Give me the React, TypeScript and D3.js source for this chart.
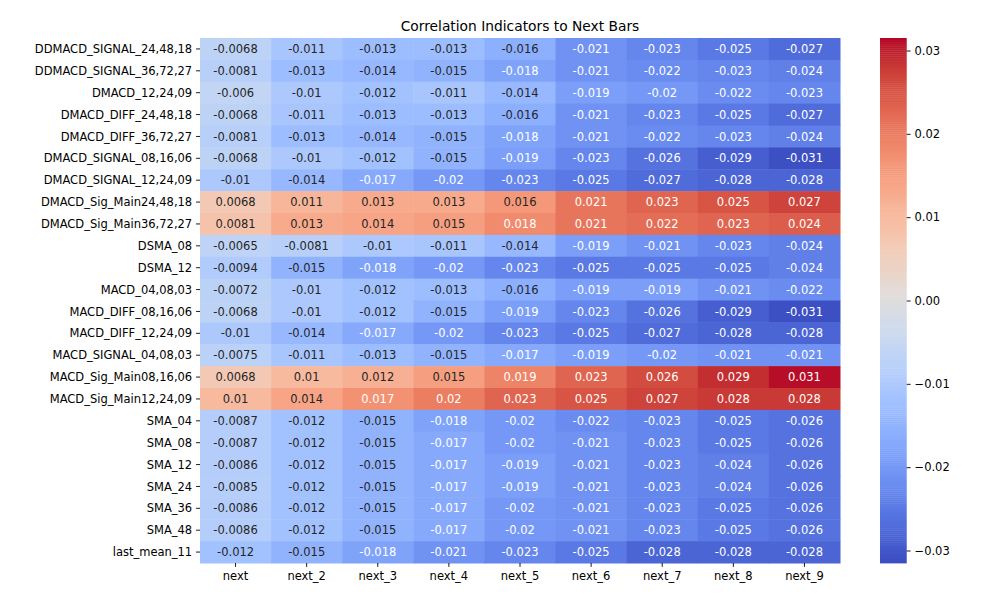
import React, { useEffect, useRef } from 'react';
import * as d3 from 'd3';

const rows = [
  'DDMACD_SIGNAL_24,48,18',
  'DDMACD_SIGNAL_36,72,27',
  'DMACD_12,24,09',
  'DMACD_DIFF_24,48,18',
  'DMACD_DIFF_36,72,27',
  'DMACD_SIGNAL_08,16,06',
  'DMACD_SIGNAL_12,24,09',
  'DMACD_Sig_Main24,48,18',
  'DMACD_Sig_Main36,72,27',
  'DSMA_08',
  'DSMA_12',
  'MACD_04,08,03',
  'MACD_DIFF_08,16,06',
  'MACD_DIFF_12,24,09',
  'MACD_SIGNAL_04,08,03',
  'MACD_Sig_Main08,16,06',
  'MACD_Sig_Main12,24,09',
  'SMA_04',
  'SMA_08',
  'SMA_12',
  'SMA_24',
  'SMA_36',
  'SMA_48',
  'last_mean_11',
];

const columns = ['next', 'next_2', 'next_3', 'next_4', 'next_5', 'next_6', 'next_7', 'next_8', 'next_9'];

// one row per indicator, one value per column
const values: number[][] = [
  [-0.0068, -0.011, -0.013, -0.013, -0.016, -0.021, -0.023, -0.025, -0.027],
  [-0.0081, -0.013, -0.014, -0.015, -0.018, -0.021, -0.022, -0.023, -0.024],
  [-0.006, -0.01, -0.012, -0.011, -0.014, -0.019, -0.02, -0.022, -0.023],
  [-0.0068, -0.011, -0.013, -0.013, -0.016, -0.021, -0.023, -0.025, -0.027],
  [-0.0081, -0.013, -0.014, -0.015, -0.018, -0.021, -0.022, -0.023, -0.024],
  [-0.0068, -0.01, -0.012, -0.015, -0.019, -0.023, -0.026, -0.029, -0.031],
  [-0.01, -0.014, -0.017, -0.02, -0.023, -0.025, -0.027, -0.028, -0.028],
  [0.0068, 0.011, 0.013, 0.013, 0.016, 0.021, 0.023, 0.025, 0.027],
  [0.0081, 0.013, 0.014, 0.015, 0.018, 0.021, 0.022, 0.023, 0.024],
  [-0.0065, -0.0081, -0.01, -0.011, -0.014, -0.019, -0.021, -0.023, -0.024],
  [-0.0094, -0.015, -0.018, -0.02, -0.023, -0.025, -0.025, -0.025, -0.024],
  [-0.0072, -0.01, -0.012, -0.013, -0.016, -0.019, -0.019, -0.021, -0.022],
  [-0.0068, -0.01, -0.012, -0.015, -0.019, -0.023, -0.026, -0.029, -0.031],
  [-0.01, -0.014, -0.017, -0.02, -0.023, -0.025, -0.027, -0.028, -0.028],
  [-0.0075, -0.011, -0.013, -0.015, -0.017, -0.019, -0.02, -0.021, -0.021],
  [0.0068, 0.01, 0.012, 0.015, 0.019, 0.023, 0.026, 0.029, 0.031],
  [0.01, 0.014, 0.017, 0.02, 0.023, 0.025, 0.027, 0.028, 0.028],
  [-0.0087, -0.012, -0.015, -0.018, -0.02, -0.022, -0.023, -0.025, -0.026],
  [-0.0087, -0.012, -0.015, -0.017, -0.02, -0.021, -0.023, -0.025, -0.026],
  [-0.0086, -0.012, -0.015, -0.017, -0.019, -0.021, -0.023, -0.024, -0.026],
  [-0.0085, -0.012, -0.015, -0.017, -0.019, -0.021, -0.023, -0.024, -0.026],
  [-0.0086, -0.012, -0.015, -0.017, -0.02, -0.021, -0.023, -0.025, -0.026],
  [-0.0086, -0.012, -0.015, -0.017, -0.02, -0.021, -0.023, -0.025, -0.026],
  [-0.012, -0.015, -0.018, -0.021, -0.023, -0.025, -0.028, -0.028, -0.028],
];

const colorbarTicks = [-0.03, -0.02, -0.01, 0, 0.01, 0.02, 0.03];
const colorRange = [-0.0315, 0.0315];

// coolwarm (Moreland) control colours, evenly spaced 0..1
const coolwarm = [
  '#3b4cc0', '#445acc', '#4d68d7', '#5775e1', '#6282ea', '#6c8ef1', '#779af7', '#82a5fb',
  '#8db0fe', '#98b9ff', '#a3c2ff', '#aec9fd', '#b8d0f9', '#c2d5f4', '#ccd9ee', '#d5dbe6',
  '#dddddd', '#e5d8d1', '#ecd3c5', '#f1ccb9', '#f5c4ad', '#f7bba0', '#f7b194', '#f7a687',
  '#f49a7b', '#f18d6f', '#ec7f63', '#e57058', '#de604d', '#d55042', '#cb3e38', '#c0282f',
  '#b40426',
];

const Heatmap: React.FC = () => {
  const svgRef = useRef<SVGSVGElement | null>(null);

  useEffect(() => {
    const svg = d3.select(svgRef.current);
    svg.selectAll('*').remove();

    const width = 1000;
    const height = 600;
    const font = 'DejaVu Sans, sans-serif';
    const fs = 11.5;
    const tickLen = 3.9;
    const pad = 3.9;

    const left = 200;
    const right = 840;
    const top = 38;
    const bottom = 563;

    svg.attr('width', width).attr('height', height);

    const x = d3.scaleBand().domain(columns).range([left, right]);
    const y = d3.scaleBand().domain(rows).range([top, bottom]);

    const norm = d3.scaleLinear().domain(colorRange).range([0, 1]).clamp(true);
    const cmap = d3
      .scaleLinear<string>()
      .domain(coolwarm.map((_, i) => i / (coolwarm.length - 1)))
      .range(coolwarm)
      .interpolate(d3.interpolateRgb);
    const color = (v: number) => cmap(norm(v));

    const luminance = (c: string) => {
      const rgb = d3.rgb(c);
      const lin = (u: number) => {
        const s = u / 255;
        return s <= 0.03928 ? s / 12.92 : Math.pow((s + 0.055) / 1.055, 2.4);
      };
      return 0.2126 * lin(rgb.r) + 0.7152 * lin(rgb.g) + 0.0722 * lin(rgb.b);
    };

    const cells = rows.flatMap((r, i) => columns.map((c, j) => ({ r, c, v: values[i][j] })));

    svg
      .append('g')
      .selectAll('rect')
      .data(cells)
      .join('rect')
      .attr('x', (d) => x(d.c)!)
      .attr('y', (d) => y(d.r)!)
      .attr('width', x.bandwidth() + 0.5)
      .attr('height', y.bandwidth() + 0.5)
      .attr('fill', (d) => color(d.v));

    svg
      .append('g')
      .selectAll('text')
      .data(cells)
      .join('text')
      .attr('x', (d) => x(d.c)! + x.bandwidth() / 2)
      .attr('y', (d) => y(d.r)! + y.bandwidth() / 2)
      .attr('dy', '0.36em')
      .attr('text-anchor', 'middle')
      .attr('font-family', font)
      .attr('font-size', fs)
      .attr('fill', (d) => (luminance(color(d.v)) > 0.408 ? '#262626' : '#ffffff'))
      .text((d) => String(d.v));

    // y axis
    const yAxis = svg.append('g');
    rows.forEach((r) => {
      const cy = y(r)! + y.bandwidth() / 2;
      yAxis
        .append('line')
        .attr('x1', left - tickLen)
        .attr('x2', left)
        .attr('y1', cy)
        .attr('y2', cy)
        .attr('stroke', '#000')
        .attr('stroke-width', 0.9);
      yAxis
        .append('text')
        .attr('x', left - tickLen - pad)
        .attr('y', cy)
        .attr('dy', '0.36em')
        .attr('text-anchor', 'end')
        .attr('font-family', font)
        .attr('font-size', fs)
        .attr('fill', '#000')
        .text(r);
    });

    // x axis
    const xAxis = svg.append('g');
    columns.forEach((c) => {
      const cx = x(c)! + x.bandwidth() / 2;
      xAxis
        .append('line')
        .attr('x1', cx)
        .attr('x2', cx)
        .attr('y1', bottom)
        .attr('y2', bottom + tickLen)
        .attr('stroke', '#000')
        .attr('stroke-width', 0.9);
      xAxis
        .append('text')
        .attr('x', cx)
        .attr('y', bottom + tickLen + pad)
        .attr('dy', '0.8em')
        .attr('text-anchor', 'middle')
        .attr('font-family', font)
        .attr('font-size', fs)
        .attr('fill', '#000')
        .text(c);
    });

    // title
    svg
      .append('text')
      .attr('x', (left + right) / 2)
      .attr('y', 31.3)
      .attr('text-anchor', 'middle')
      .attr('font-family', font)
      .attr('font-size', 13.8)
      .attr('fill', '#000')
      .text('Correlation Indicators to Next Bars');

    // colorbar
    const cbLeft = 880;
    const cbWidth = 26.7;
    const cbScale = d3.scaleLinear().domain(colorRange).range([bottom, top]);
    const steps = 256;
    const stepVals = d3.range(steps).map((i) => colorRange[0] + ((i + 0.5) / steps) * (colorRange[1] - colorRange[0]));
    const stepH = (bottom - top) / steps;

    svg
      .append('g')
      .selectAll('rect')
      .data(stepVals)
      .join('rect')
      .attr('x', cbLeft)
      .attr('y', (d) => cbScale(d) - stepH / 2)
      .attr('width', cbWidth)
      .attr('height', stepH + 0.4)
      .attr('fill', (d) => color(d));

    const cbAxis = d3
      .axisRight(cbScale)
      .tickValues(colorbarTicks)
      .tickSize(tickLen)
      .tickPadding(pad)
      .tickFormat(d3.format('.2f'));

    const cbG = svg
      .append('g')
      .attr('transform', `translate(${cbLeft + cbWidth},0)`)
      .call(cbAxis);
    cbG.select('.domain').remove();
    cbG.selectAll('line').attr('stroke', '#000').attr('stroke-width', 0.9);
    cbG.selectAll('text').attr('font-family', font).attr('font-size', fs).attr('fill', '#000');
  }, []);

  return <svg ref={svgRef} style={{ position: 'absolute', left: 0, top: 0, background: '#fff' }}></svg>;
};

export default function App() {
  return <Heatmap />;
}
